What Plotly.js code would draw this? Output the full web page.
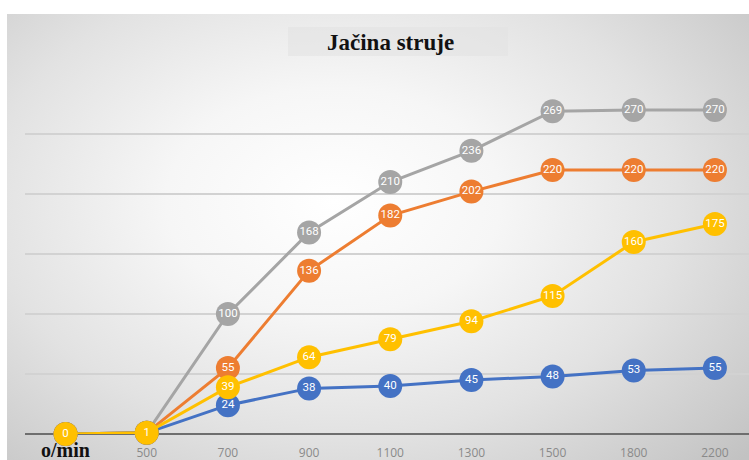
<!DOCTYPE html>
<html>
<head>
<meta charset="utf-8">
<script src="https://cdn.plot.ly/plotly-3.0.1.min.js"></script>
<style>
  html, body { margin:0; padding:0; background:#ffffff; width:749px; height:460px; overflow:hidden; }
  #bg { position:absolute; left:7px; top:14px; width:742px; height:446px;
        background: radial-gradient(ellipse 75% 85% at 44% 42%, #ffffff 0%, #f6f6f6 30%, #e2e2e2 62%, #cbcbcb 90%, #c2c2c2 100%); }
  #chart { position:absolute; left:0; top:0; width:749px; height:460px; }
</style>
</head>
<body>
<div id="bg"></div>
<div id="chart"></div>
<script>
const categories = ["0", "500", "700", "900", "1100", "1300", "1500", "1800", "2200"];
const tickLabels = ["", "500", "700", "900", "1100", "1300", "1500", "1800", "2200"];
const firstTickLabel = "o/min";
const titleText = "Jačina struje";

const grayValues   = [0, 1, 100, 168, 210, 236, 269, 270, 270];
const orangeValues = [0, 1, 55, 136, 182, 202, 220, 220, 220];
const blueValues   = [0, 1, 24, 38, 40, 45, 48, 53, 55];
const yellowValues = [0, 1, 39, 64, 79, 94, 115, 160, 175];

function series(values, color) {
  return {
    type: 'scatter',
    mode: 'lines+markers+text',
    x: categories,
    y: values,
    text: values.map(String),
    textposition: 'middle center',
    textfont: { family: 'Roboto, "Open Sans", sans-serif', size: 11.5, color: '#ffffff' },
    line: { color: color, width: 3 },
    marker: { color: color, size: 24, line: { color: color, width: 0 } },
    cliponaxis: false,
    hoverinfo: 'skip',
    showlegend: false
  };
}

const data = [
  series(grayValues, '#A5A5A5'),
  series(orangeValues, '#ED7D31'),
  series(blueValues, '#4472C4'),
  series(yellowValues, '#FFC000')
];

const layout = {
  width: 749, height: 460,
  margin: { l: 25, r: 0, t: 74, b: 26, pad: 0 },
  paper_bgcolor: 'rgba(0,0,0,0)',
  plot_bgcolor: 'rgba(0,0,0,0)',
  showlegend: false,
  xaxis: {
    type: 'category',
    range: [-0.5, 8.42],
    tickvals: categories,
    ticktext: tickLabels,
    ticks: '',
    ticklabelstandoff: 10,
    showgrid: false,
    zeroline: false,
    showline: false,
    tickfont: { family: '"Open Sans", "Liberation Sans", sans-serif', size: 12, color: '#8a8a8a' },
    fixedrange: true
  },
  yaxis: {
    range: [0, 300],
    dtick: 50,
    showticklabels: false,
    ticks: '',
    showgrid: true,
    gridcolor: '#d2d2d2',
    gridwidth: 1.5,
    zeroline: true,
    zerolinecolor: '#6e6e6e',
    zerolinewidth: 2.5,
    showline: false,
    fixedrange: true
  },
  shapes: [
    { type: 'rect', xref: 'paper', yref: 'paper', layer: 'below',
      x0: (288 - 25) / 724, x1: (508 - 25) / 724,
      y0: (460 - 26 - 56) / 360, y1: (460 - 26 - 27) / 360,
      fillcolor: 'rgba(225,225,225,0.55)', line: { width: 0 } }
  ],
  annotations: [
    { text: '<b>' + titleText + '</b>', xref: 'paper', yref: 'paper',
      x: (390 - 25) / 724, y: (460 - 26 - 42) / 360, xanchor: 'center', yanchor: 'middle',
      showarrow: false,
      font: { family: '"Liberation Serif", "DejaVu Serif", serif', size: 23, color: '#111111' } },
    { text: '<b>' + firstTickLabel + '</b>', xref: 'x', yref: 'paper',
      x: categories[0], y: -16 / 360, xanchor: 'center', yanchor: 'middle',
      showarrow: false,
      font: { family: '"Liberation Serif", "DejaVu Serif", serif', size: 20, color: '#111111' } }
  ]
};

Plotly.newPlot('chart', data, layout, { displayModeBar: false, staticPlot: true });
</script>
</body>
</html>
